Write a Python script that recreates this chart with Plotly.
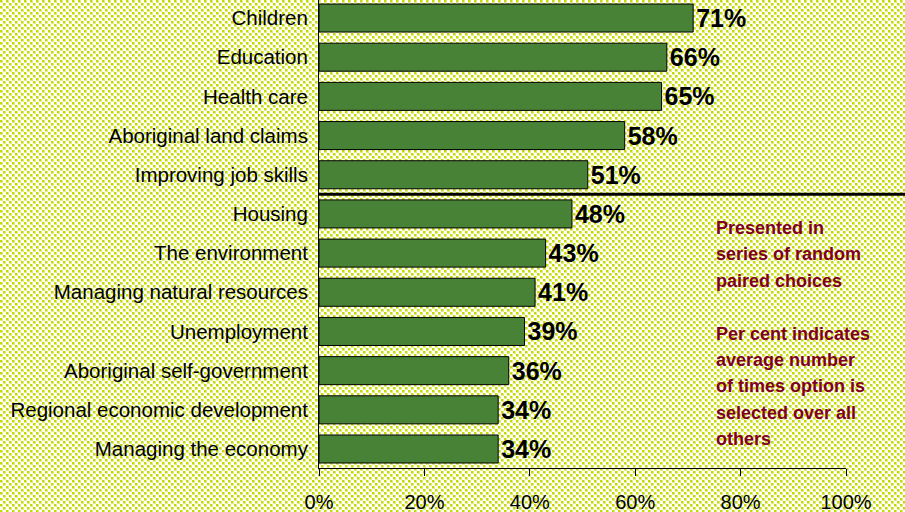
import plotly.graph_objects as go
import base64

categories = [
    "Children", "Education", "Health care", "Aboriginal land claims",
    "Improving job skills", "Housing", "The environment",
    "Managing natural resources", "Unemployment",
    "Aboriginal self-government", "Regional economic development",
    "Managing the economy",
]
percent = [71, 66, 65, 58, 51, 48, 43, 41, 39, 36, 34, 34]
x_ticks = [0, 20, 40, 60, 80, 100]
note_lines = [
    "Presented in", "series of random", "paired choices", "",
    "Per cent indicates", "average number", "of times option is",
    "selected over all", "others",
]

W, H = 905, 512
L, R, T, B = 319, 59, 0, 44
plot_w, plot_h = W - L - R, H - T - B

# dotted yellow-green backdrop: staggered small squares
P = 6
dots = []
for px, py in [(0, 0), (3, 3)]:
    dots.append(f'<rect x="{px}" y="{py}" width="3" height="3" fill="#e0eb80"/>')
    dots.append(f'<rect x="{px}" y="{py}" width="2" height="2" fill="#c6da00"/>')
svg = (
    f'<svg xmlns="http://www.w3.org/2000/svg" width="{W}" height="{H}">'
    f'<defs><pattern id="p" width="{P}" height="{P}" patternUnits="userSpaceOnUse">'
    f'<rect width="{P}" height="{P}" fill="#ffffff"/>'
    + "".join(dots) +
    '</pattern></defs>'
    f'<rect width="{W}" height="{H}" fill="url(#p)"/></svg>'
)
bg_uri = "data:image/svg+xml;base64," + base64.b64encode(svg.encode()).decode()

fig = go.Figure(go.Bar(
    y=categories,
    x=[v / 100 for v in percent],
    orientation="h",
    marker=dict(color="#488237", line=dict(color="#000000", width=1)),
    text=[f"{v}%" for v in percent],
    textposition="outside",
    textfont=dict(family="Liberation Sans, Arial, sans-serif", size=25,
                  color="#000000", weight="bold"),
    cliponaxis=False,
    hoverinfo="skip",
))

fig.update_layout(
    width=W, height=H,
    margin=dict(l=L, r=R, t=T, b=B, pad=0, autoexpand=False),
    paper_bgcolor="#ffffff",
    plot_bgcolor="rgba(0,0,0,0)",
    bargap=0.285,
    showlegend=False,
    images=[dict(
        source=bg_uri, xref="paper", yref="paper",
        x=-L / plot_w, y=1 + T / plot_h,
        sizex=W / plot_w, sizey=H / plot_h,
        sizing="stretch", xanchor="left", yanchor="top", layer="below",
    )],
)

fig.update_xaxes(
    range=[0, 1],
    tickvals=[t / 100 for t in x_ticks],
    ticktext=[f"{t}%" for t in x_ticks],
    ticks="outside", ticklen=7, tickcolor="#000000", tickwidth=1,
    showline=True, linecolor="#000000", linewidth=1,
    showgrid=False, zeroline=False, automargin=False,
    tickfont=dict(family="Liberation Sans, Arial, sans-serif", size=20,
                  color="#000000"),
    ticklabelstandoff=9,
)
fig.update_yaxes(
    range=[11.485, -0.46],
    showline=True, linecolor="#000000", linewidth=1,
    showgrid=False, zeroline=False, ticks="", automargin=False,
    tickfont=dict(family="Liberation Sans, Arial, sans-serif",
                  size=20.5, color="#000000"),
    ticklabelstandoff=6,
)

# divider between the top five priorities and the rest
fig.add_shape(
    type="line", xref="paper", yref="y",
    x0=0, x1=(W - L) / plot_w, y0=4.5, y1=4.5,
    line=dict(color="#000000", width=3), layer="above",
)

# side note, one line at a time
for i, line in enumerate(note_lines):
    if not line:
        continue
    y_px = 228 + i * 26.4
    fig.add_annotation(
        text=line, xref="paper", yref="paper",
        x=(714 - L) / plot_w, y=1 - (y_px - T) / plot_h,
        xanchor="left", yanchor="middle", showarrow=False,
        font=dict(family="Liberation Sans, Arial, sans-serif",
                  size=18, color="#80001e", weight="bold"),
    )

fig.write_html("out.html")
